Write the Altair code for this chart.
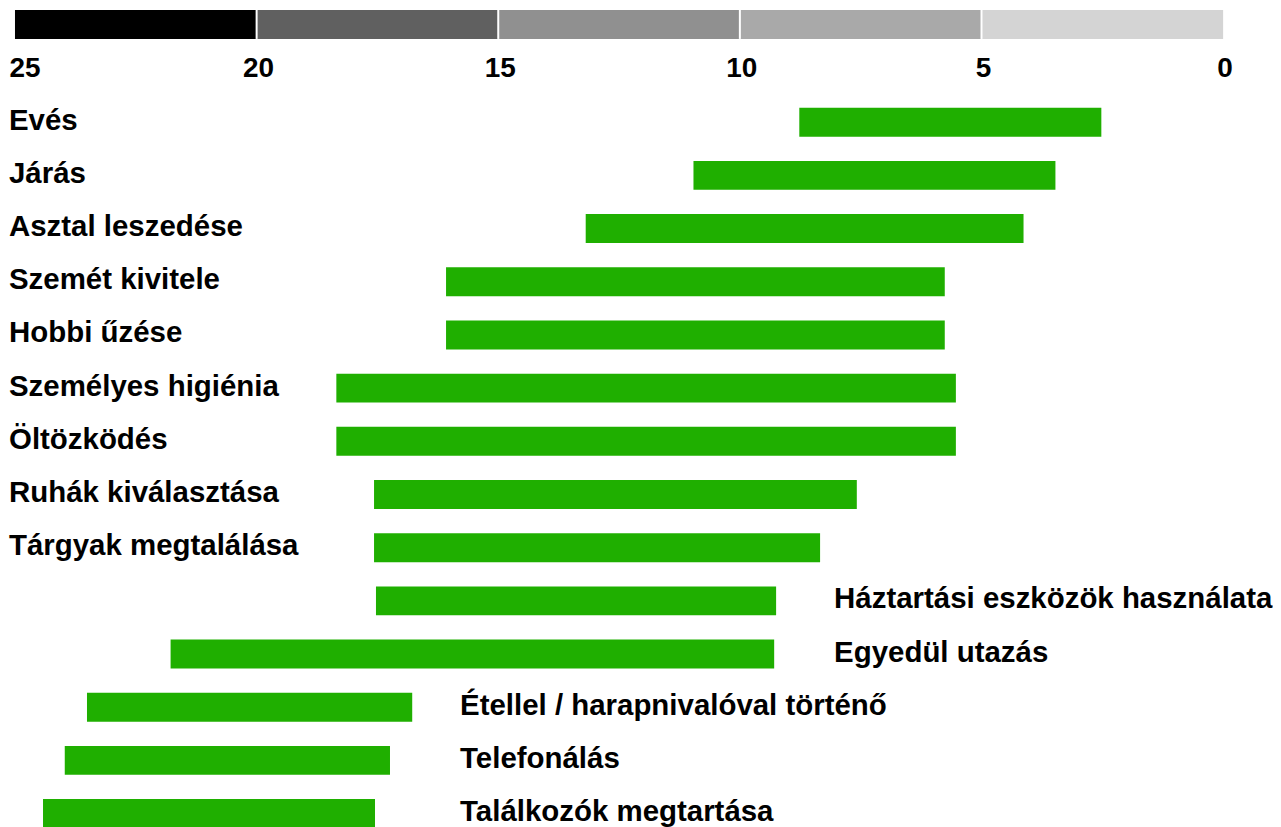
import altair as alt
import pandas as pd

# ---- data ----
tasks = [
    "Evés", "Járás", "Asztal leszedése", "Szemét kivitele", "Hobbi űzése",
    "Személyes higiénia", "Öltözködés", "Ruhák kiválasztása", "Tárgyak megtalálása",
    "Háztartási eszközök használata", "Egyedül utazás",
    "Étellel / harapnivalóval történő", "Telefonálás", "Találkozók megtartása",
]
starts = [8.77, 10.96, 13.19, 16.08, 16.08, 18.35, 18.35, 17.57, 17.57, 17.53, 21.78, 23.51, 23.97, 24.42]
ends = [2.52, 3.47, 4.13, 5.76, 5.76, 5.53, 5.53, 7.58, 8.34, 9.25, 9.29, 16.78, 17.24, 17.55]
label_side = ["left"] * 9 + ["right"] * 5
label_anchor = [25] * 9 + [8.05, 8.05, 15.79, 15.79, 15.79]

band_from = [25, 20, 15, 10, 5]
band_to = [20, 15, 10, 5, 0]
band_shade = ["#000000", "#606060", "#909090", "#A9A9A9", "#D4D4D4"]
band_breaks = [20, 15, 10, 5]

tick_values = [25, 20, 15, 10, 5, 0]

GREEN = "#1FAF00"
FONT = "Liberation Sans"

df = pd.DataFrame({"task": tasks, "start": starts, "end": ends,
                   "side": label_side, "anchor": label_anchor})
band_df = pd.DataFrame({"a": band_from, "b": band_to, "shade": band_shade})
breaks_df = pd.DataFrame({"v": band_breaks})

W = 1211

def xscale():
    return alt.Scale(domain=[0, 25], reverse=True, nice=False, zero=False)

band_rects = alt.Chart(band_df).mark_rect().encode(
    x=alt.X("a:Q", scale=xscale(), axis=None),
    x2="b:Q",
    color=alt.Color("shade:N", scale=None, legend=None),
)
band_gaps = alt.Chart(breaks_df).mark_rule(color="white", strokeWidth=2).encode(
    x=alt.X("v:Q", scale=xscale(), axis=None),
)
band = alt.layer(band_rects, band_gaps).properties(width=W, height=29)

yenc = alt.Y("task:N", sort=tasks, axis=None,
             scale=alt.Scale(paddingInner=0.456, paddingOuter=0.225))

bars = alt.Chart(df).mark_bar(color=GREEN).encode(
    x=alt.X("start:Q", scale=xscale(),
            axis=alt.Axis(orient="top", values=tick_values, format="d", title=None,
                          labelFont=FONT, labelFontSize=28, labelFontWeight="bold",
                          labelColor="black", labelPadding=13, domain=False,
                          ticks=False, grid=False, labelFlush=False, labelOverlap=False,
                          labelOffset={"condition": {"test": "datum.value == 25", "value": 9.5},
                                       "value": 1.5})),
    x2="end:Q",
    y=yenc,
)

left_labels = alt.Chart(df).transform_filter(alt.datum.side == "left").mark_text(
    align="left", baseline="middle", dx=-6, dy=-1.5, font=FONT, fontSize=29.5,
    fontWeight="bold", color="black",
).encode(x=alt.X("anchor:Q", scale=xscale()), y=yenc, text="task:N")

right_labels = alt.Chart(df).transform_filter(alt.datum.side == "right").mark_text(
    align="left", baseline="middle", dy=-1.5, font=FONT, fontSize=29.5,
    fontWeight="bold", color="black",
).encode(x=alt.X("anchor:Q", scale=xscale()), y=yenc, text="task:N")

main = alt.layer(bars, left_labels, right_labels).properties(width=W, height=746)

chart = alt.vconcat(band, main, spacing=15).properties(
    padding={"left": 0, "top": 0, "right": 0, "bottom": 0},
    background="white",
).configure_view(strokeWidth=0, stroke=None)

chart.save("out.html", embed_options={"renderer": "svg", "actions": False})
